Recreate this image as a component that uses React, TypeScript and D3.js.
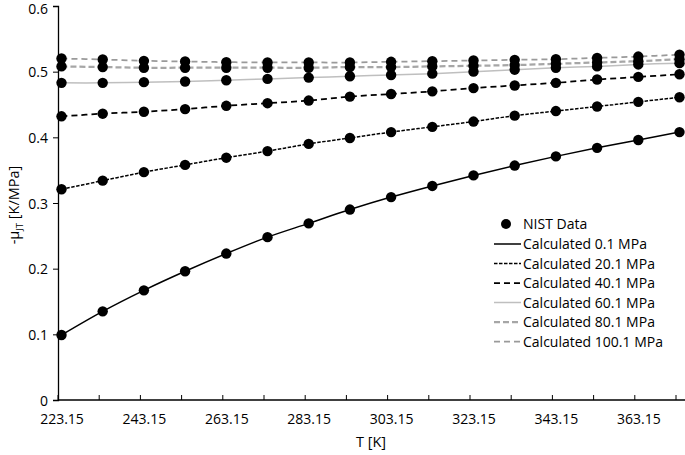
import React, { useRef, useEffect } from 'react';
import * as d3 from 'd3';

// temperatures of the NIST points [K]
const temps = [224, 234, 244, 254, 264, 274, 284, 294, 304, 314, 324, 334, 344, 354, 364, 374];

const p01 = [0.099, 0.135, 0.167, 0.196, 0.223, 0.248, 0.269, 0.290, 0.309, 0.326, 0.342, 0.357, 0.371, 0.384, 0.396, 0.408];
const p201 = [0.321, 0.334, 0.347, 0.358, 0.369, 0.379, 0.390, 0.399, 0.408, 0.416, 0.424, 0.433, 0.440, 0.447, 0.454, 0.461];
const p401 = [0.432, 0.436, 0.439, 0.443, 0.448, 0.452, 0.456, 0.462, 0.466, 0.470, 0.475, 0.479, 0.483, 0.488, 0.492, 0.496];
const p601 = [0.483, 0.483, 0.484, 0.485, 0.487, 0.489, 0.491, 0.493, 0.495, 0.497, 0.500, 0.503, 0.506, 0.508, 0.511, 0.513];
const p801 = [0.508, 0.507, 0.506, 0.506, 0.506, 0.506, 0.506, 0.507, 0.507, 0.508, 0.509, 0.510, 0.512, 0.514, 0.516, 0.519];
const p1001 = [0.520, 0.5185, 0.5165, 0.5155, 0.5145, 0.514, 0.514, 0.514, 0.515, 0.516, 0.517, 0.518, 0.519, 0.521, 0.523, 0.526];

const seriesNames = ['Calculated 0.1 MPa', 'Calculated 20.1 MPa', 'Calculated 40.1 MPa', 'Calculated 60.1 MPa', 'Calculated 80.1 MPa', 'Calculated 100.1 MPa'];
const seriesValues = [p01, p201, p401, p601, p801, p1001];
const seriesStyles = [
  { color: '#000000', width: 1.5, dash: null },
  { color: '#000000', width: 1.5, dash: '3.5,1.5' },
  { color: '#000000', width: 1.75, dash: '6,4' },
  { color: '#bfbfbf', width: 1.5, dash: null },
  { color: '#a6a6a6', width: 2.25, dash: '6,3' },
  { color: '#9a9a9a', width: 1.75, dash: '6,4' },
];

const xTicks = [223.15, 243.15, 263.15, 283.15, 303.15, 323.15, 343.15, 363.15];
const xMinorTicks = d3.range(0, 16).map(i => 223.15 + i * 10);
const yTicks = [0, 0.1, 0.2, 0.3, 0.4, 0.5, 0.6];

export default function App() {
  const svgRef = useRef<SVGSVGElement>(null);

  useEffect(() => {
    const width = 685;
    const height = 455;
    const font = '"Open Sans", sans-serif';

    const x = d3.scaleLinear().domain([223.15, 373.15]).range([58, 676]);
    const y = d3.scaleLinear().domain([0, 0.6]).range([400, 6]);

    const svg = d3.select(svgRef.current);
    svg.selectAll('*').remove();
    svg.attr('width', width).attr('height', height)
      .attr('viewBox', [0, 0, width, height] as any)
      .style('font-family', font);

    svg.append('rect').attr('width', width).attr('height', height).attr('fill', '#fff');

    // X axis: ticks pointing inside every 10 K, labels every 20 K
    const gx = svg.append('g').attr('transform', `translate(0,${y(0)})`);
    gx.append('line').attr('x1', x(223.15)).attr('x2', 685).attr('stroke', '#000').attr('stroke-width', 1.3);
    gx.selectAll('line.tk').data(xMinorTicks).join('line')
      .attr('class', 'tk')
      .attr('x1', d => x(d)).attr('x2', d => x(d))
      .attr('y1', 0).attr('y2', -5)
      .attr('stroke', '#000').attr('stroke-width', 1);
    gx.selectAll('text').data(xTicks).join('text')
      .attr('x', d => x(d) + 4).attr('y', 24)
      .attr('text-anchor', 'middle')
      .attr('font-size', '14px')
      .attr('fill', '#000')
      .text(d => d.toFixed(2));

    // Y axis
    const gy = svg.append('g').attr('transform', `translate(${x(223.15)},0)`)
      .call(d3.axisLeft(y).tickValues(yTicks).tickSize(5).tickPadding(5).tickFormat(d => d3.format('')(+d)))
      .call(g => g.select('.domain').attr('stroke-width', 1.3))
      .call(g => g.selectAll('.tick text').attr('font-size', '14px').attr('font-family', font).attr('dy', '0.36em'));
    gy.selectAll('.tick line').attr('stroke-width', 1);
    // keep the top label inside the picture
    gy.selectAll<SVGTextElement, number>('.tick text').filter(d => d === 0.6).attr('dy', '0.5em');

    // axis titles
    svg.append('text')
      .attr('x', 371).attr('y', 447)
      .attr('text-anchor', 'middle')
      .attr('font-size', '14.5px')
      .text('T [K]');

    const yl = svg.append('text')
      .attr('transform', 'translate(19,205) rotate(-90)')
      .attr('text-anchor', 'middle')
      .attr('font-size', '14.5px');
    yl.append('tspan').text('-μ');
    yl.append('tspan').attr('font-size', '9.5px').attr('dy', 4).text('JT');
    yl.append('tspan').attr('dy', -4).text(' [K/MPa]');

    // calculated lines
    const line = d3.line<number>()
      .x((_, i) => x(temps[i]))
      .y(d => y(d))
      .curve(d3.curveCatmullRom.alpha(0.5));

    seriesValues.forEach((vals, k) => {
      const st = seriesStyles[k];
      svg.append('path')
        .datum(vals)
        .attr('fill', 'none')
        .attr('stroke', st.color)
        .attr('stroke-width', st.width)
        .attr('stroke-dasharray', st.dash)
        .attr('d', line);
    });

    // NIST data points
    seriesValues.forEach(vals => {
      svg.append('g').selectAll('circle').data(vals).join('circle')
        .attr('cx', (_, i) => x(temps[i]))
        .attr('cy', d => y(d))
        .attr('r', 5.2)
        .attr('fill', '#000');
    });

    // legend
    const lg = svg.append('g').attr('font-size', '14px');
    lg.append('circle').attr('cx', 506).attr('cy', 224).attr('r', 5).attr('fill', '#000');
    lg.append('text').attr('x', 523).attr('y', 229).text('NIST Data');
    seriesNames.forEach((name, k) => {
      const st = seriesStyles[k];
      const yy = 244 + k * 19.5;
      lg.append('line')
        .attr('x1', 494).attr('x2', 521).attr('y1', yy).attr('y2', yy)
        .attr('stroke', st.color)
        .attr('stroke-width', st.width)
        .attr('stroke-dasharray', st.dash);
      lg.append('text').attr('x', 523).attr('y', yy + 5).text(name);
    });
  }, []);

  return (
    <div style={{ position: 'absolute', left: 0, top: 0 }}>
      <svg ref={svgRef}></svg>
    </div>
  );
}
